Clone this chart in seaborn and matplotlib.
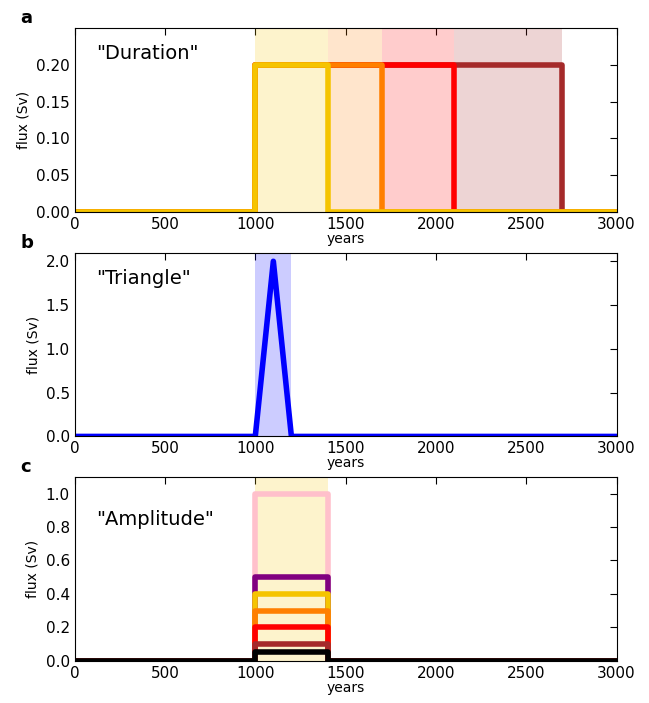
import matplotlib
matplotlib.use("Agg")
import matplotlib.pyplot as plt
import seaborn as sns
import numpy as np
import pandas as pd

sns.set_style("white")
plt.rcParams['font.family'] = ['DejaVu Sans']
plt.rcParams['text.color'] = 'black'
plt.rcParams['axes.labelcolor'] = 'black'
plt.rcParams['xtick.color'] = 'black'
plt.rcParams['ytick.color'] = 'black'

start = 1000
dur_ends = [1400, 1700, 2100, 2700]
dur_colors = ["#f5c400", "#ff7f00", "#ff0000", "#a52a2a"]
dur_amp = 0.2
tri_x = [0, 1000, 1100, 1200, 3000]
tri_y = [0, 0, 2.0, 0, 0]
amp_vals = [1.0, 0.5, 0.4, 0.3, 0.2, 0.1, 0.05]
amp_colors = ["pink", "purple", "#f5c400", "#ff7f00", "#ff0000", "#a52a2a", "black"]
amp_end = 1400

def step(a, end):
    return [0, start, start, end, end, 3000], [0, 0, a, a, 0, 0]

fig, axes = plt.subplots(3, 1, figsize=(6.49, 7.03), dpi=100)
fig.subplots_adjust(left=0.115, right=0.95, top=0.96, bottom=0.06, hspace=0.22)

ax = axes[0]
prev = start
for e, c in zip(dur_ends, dur_colors):
    ax.axvspan(prev, e, color=c, alpha=0.2, lw=0)
    prev = e
for e, c in reversed(list(zip(dur_ends, dur_colors))):
    x, y = step(dur_amp, e)
    sns.lineplot(x=x, y=y, ax=ax, color=c, lw=4, sort=False, estimator=None)
ax.set_ylim(0, 0.25)
ax.set_yticks([0, 0.05, 0.1, 0.15, 0.2])
ax.set_yticklabels(["0.00", "0.05", "0.10", "0.15", "0.20"])
ax.text(0.04, 0.83, '"Duration"', transform=ax.transAxes, fontsize=14)
ax.set_title("a", loc="left", x=-0.1, fontweight="bold", fontsize=13, y=0.98)

ax = axes[1]
ax.axvspan(1000, 1200, color="blue", alpha=0.2, lw=0)
sns.lineplot(x=tri_x, y=tri_y, ax=ax, color="blue", lw=4, sort=False, estimator=None)
ax.set_ylim(0, 2.1)
ax.set_yticks([0, 0.5, 1.0, 1.5, 2.0])
ax.text(0.04, 0.83, '"Triangle"', transform=ax.transAxes, fontsize=14)
ax.set_title("b", loc="left", x=-0.1, fontweight="bold", fontsize=13, y=0.98)

ax = axes[2]
ax.axvspan(1000, 1400, color="#f5c400", alpha=0.2, lw=0)
for a, c in zip(amp_vals, amp_colors):
    x, y = step(a, amp_end)
    sns.lineplot(x=x, y=y, ax=ax, color=c, lw=4, sort=False, estimator=None)
ax.set_ylim(0, 1.1)
ax.set_yticks([0, 0.2, 0.4, 0.6, 0.8, 1.0])
ax.text(0.04, 0.74, '"Amplitude"', transform=ax.transAxes, fontsize=14)
ax.set_title("c", loc="left", x=-0.1, fontweight="bold", fontsize=13, y=0.98)

for ax in axes:
    ax.set_xlim(0, 3000)
    ax.set_xticks(range(0, 3001, 500))
    ax.set_ylabel("flux (Sv)")
    ax.set_xlabel("years", labelpad=0)
    ax.tick_params(direction="in", top=True, right=True, labelsize=11, length=5)
    for s in ax.spines.values():
        s.set_color("black")

fig.savefig("out.png")
